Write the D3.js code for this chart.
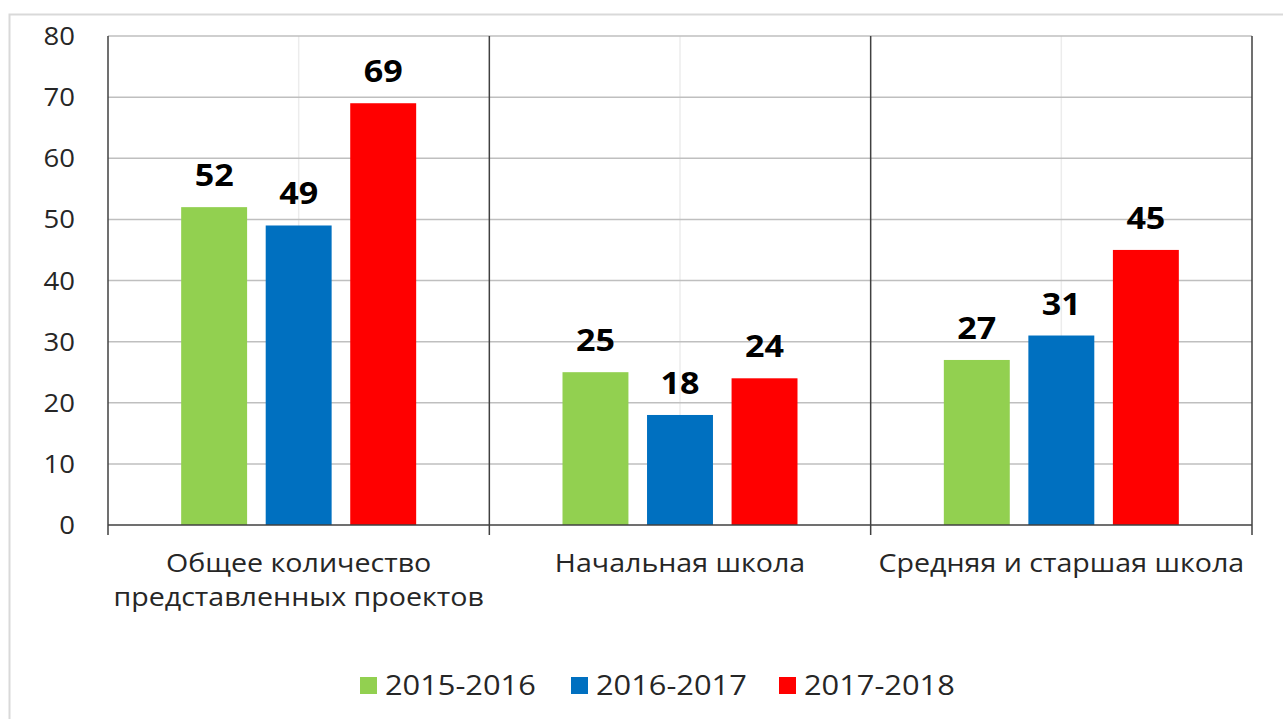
<!DOCTYPE html>
<html>
<head>
<meta charset="utf-8">
<script src="https://cdn.jsdelivr.net/npm/d3@7"></script>
<style>
  body { margin: 0; background: #fff; }
  text { font-family: "Open Sans", sans-serif; }
</style>
</head>
<body>
<svg id="chart"></svg>
<script>
// Chart data
const categories = [
  ["Общее количество", "представленных проектов"],
  ["Начальная школа"],
  ["Средняя и старшая школа"]
];
const seriesNames = ["2015-2016", "2016-2017", "2017-2018"];
const seriesColors = ["#92d050", "#0070c0", "#ff0000"];
const values2015 = [52, 25, 27];
const values2016 = [49, 18, 31];
const values2017 = [69, 24, 45];
const yTicks = [0, 10, 20, 30, 40, 50, 60, 70, 80];

const allValues = [values2015, values2016, values2017];

// Dimensions
const W = 1283, H = 719;
const margin = { top: 36, right: 31, bottom: 194, left: 108 };
const width = W - margin.left - margin.right;
const height = H - margin.top - margin.bottom;

// the source picture is a bit stretched sideways, so text gets a small x-scale
const stretch = 1.1;

const svg = d3.select("#chart").attr("width", W).attr("height", H);

// Outer light frame
svg.append("rect")
  .attr("x", 9.5).attr("y", 14.5)
  .attr("width", W + 20).attr("height", H + 20)
  .attr("fill", "none")
  .attr("stroke", "#d9d9d9")
  .attr("stroke-width", 2);

const g = svg.append("g").attr("transform", `translate(${margin.left},${margin.top})`);

// Scales
const x0 = d3.scaleBand().domain(d3.range(categories.length)).range([0, width]).padding(0);
const barsSpan = 235;
const inset = (x0.bandwidth() - barsSpan) / 2;
const x1 = d3.scaleBand().domain(d3.range(seriesNames.length))
  .range([inset, inset + barsSpan]).paddingInner(0.22).paddingOuter(0);
const y = d3.scaleLinear().domain([0, 80]).range([height, 0]);

// Faint vertical lines at category centres
g.selectAll(".vmid")
  .data(d3.range(categories.length))
  .enter().append("line")
  .attr("x1", d => x0(d) + x0.bandwidth() / 2)
  .attr("x2", d => x0(d) + x0.bandwidth() / 2)
  .attr("y1", 0).attr("y2", height)
  .attr("stroke", "#ececec").attr("stroke-width", 1.5);

// Horizontal gridlines
g.selectAll(".hgrid")
  .data(yTicks.filter(d => d > 0))
  .enter().append("line")
  .attr("x1", 0).attr("x2", width)
  .attr("y1", d => y(d)).attr("y2", d => y(d))
  .attr("stroke", "#bfbfbf").attr("stroke-width", 1.5);

// Category separators (dark)
const bounds = d3.range(categories.length + 1).map(i => i * x0.step());
g.selectAll(".sep")
  .data(bounds)
  .enter().append("line")
  .attr("x1", d => d).attr("x2", d => d)
  .attr("y1", 0).attr("y2", height + 10)
  .attr("stroke", "#404040").attr("stroke-width", 1.5);

// Bars + value labels
const groups = g.selectAll(".cat")
  .data(categories)
  .enter().append("g")
  .attr("transform", (d, i) => `translate(${x0(i)},0)`);

groups.each(function (c, ci) {
  const grp = d3.select(this);
  allValues.forEach((vals, si) => {
    grp.append("rect")
      .attr("x", x1(si))
      .attr("y", y(vals[ci]))
      .attr("width", x1.bandwidth())
      .attr("height", height - y(vals[ci]))
      .attr("fill", seriesColors[si]);
    grp.append("text")
      .attr("transform", `translate(${x1(si) + x1.bandwidth() / 2},${y(vals[ci]) - 21}) scale(${stretch},1)`)
      .attr("text-anchor", "middle")
      .style("font-size", "31px")
      .style("font-weight", "bold")
      .style("fill", "#000")
      .text(vals[ci]);
  });
});

// X axis baseline
g.append("line")
  .attr("x1", 0).attr("x2", width)
  .attr("y1", height).attr("y2", height)
  .attr("stroke", "#404040").attr("stroke-width", 1.5);

// Y tick labels
g.selectAll(".ytick")
  .data(yTicks)
  .enter().append("text")
  .attr("transform", d => `translate(-33,${y(d) + 9}) scale(${stretch},1)`)
  .attr("text-anchor", "end")
  .style("font-size", "25px")
  .style("fill", "#262626")
  .text(d => d);

// Category labels
groups.each(function (c) {
  c.forEach((line, li) => {
    d3.select(this).append("text")
      .attr("transform", `translate(${x0.bandwidth() / 2},${height + 47 + li * 34}) scale(1.1,1)`)
      .attr("text-anchor", "middle")
      .style("font-size", "26px")
      .style("fill", "#262626")
      .text(line);
  });
});

// Legend
const legendX = [360, 571, 779];
const legend = svg.selectAll(".legend")
  .data(seriesNames)
  .enter().append("g")
  .attr("transform", (d, i) => `translate(${legendX[i]},677)`);
legend.append("rect")
  .attr("width", 17).attr("height", 17)
  .attr("fill", (d, i) => seriesColors[i]);
legend.append("text")
  .attr("transform", `translate(25,18) scale(${stretch},1)`)
  .style("font-size", "28px")
  .style("fill", "#262626")
  .text(d => d);
</script>
</body>
</html>
